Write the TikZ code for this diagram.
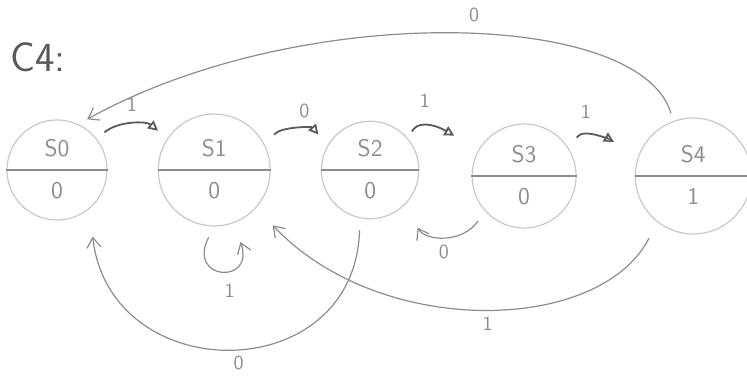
\documentclass[tikz,border=0pt]{standalone}
\usepackage{tikz}
\usetikzlibrary{shapes.multipart,arrows.meta,positioning}
\definecolor{PencilDark}{HTML}{5A5A5A}
\definecolor{PencilMid}{HTML}{8C8C8C}
\definecolor{PencilLight}{HTML}{C8C8C8}
\tikzset{
  ST/.style={circle split,draw=PencilLight,line width=0.6pt,
             inner sep=6pt,font=\sffamily\large,text=PencilMid},
  SPL/.style={draw=PencilMid,line width=0.6pt},
  arr/.style={-{Triangle[open,length=5pt,width=5pt]},PencilDark,line width=0.9pt},
  larr/.style={-{Straight Barb[length=5pt,width=7pt]},PencilMid,line width=0.6pt},
  LB/.style={font=\sffamily\normalsize,text=PencilMid}
}
\begin{document}
\begin{tikzpicture}[x=0.5pt,y=0.5pt,node distance=25pt]
  \useasboundingbox (0,0) rectangle (747,379);
  \node[font=\sffamily\huge,text=PencilDark] (title) at (38,322) {C4:};

  \node[ST,minimum size=50pt] (s0) at (57,209) {S0\nodepart{lower}0};
  \node[ST,minimum size=56pt,right=of s0] (s1) {S1\nodepart{lower}0};
  \node[ST,minimum size=48pt,right=of s1] (s2) {S2\nodepart{lower}0};
  \node[ST,minimum size=52pt,right=26pt of s2,yshift=-3pt] (s3) {S3\nodepart{lower}0};
  \node[ST,minimum size=58pt,right=29pt of s3] (s4) {S4\nodepart{lower}1};
  \foreach \s in {s0,s1,s2,s3,s4}
    \draw[SPL] (\s.west) -- (\s.east);

  % short arrows along the top
  \draw[arr,shorten <=5pt,shorten >=6pt] (s0.38) to[bend left=40] node[LB,midway,above=3pt]{1} (s1.146);
  \draw[arr,shorten <=7pt,shorten >=7pt] (s1.26) to[bend left=50] node[LB,midway,above=3pt,xshift=4pt]{0} (s2.150);
  \draw[arr,shorten <=4pt,shorten >=14pt] (s2.40) to[out=60,in=150] node[LB,pos=0.3,above=6pt]{1} (s3.150);
  \draw[arr,shorten <=7pt,shorten >=14pt] (s3.30) to[out=60,in=150] node[LB,pos=0.3,above=6pt]{1} (s4.160);

  % long arcs
  \draw[larr,shorten <=4pt,shorten >=5pt] (s4.110) .. controls (640,370) and (300,378) .. node[LB,pos=0.46,above=3pt]{0} (s0.65);
  \draw[larr,shorten <=6pt,shorten >=14pt] (s2.258) .. controls (355,-10) and (110,-10) .. node[LB,midway,below=2pt,xshift=4pt]{0} (s0.-50);
  \draw[larr,shorten <=9pt,shorten >=12pt] (s4.232) .. controls (600,45) and (380,40) .. node[LB,midway,below=2pt,xshift=3pt]{1} (s1.-42);
  \draw[larr,shorten <=6pt,shorten >=13pt] (s3.222) .. controls (462,135) and (425,138) .. node[LB,midway,below=2pt]{0} (s2.-45);
  \draw[larr,shorten <=6pt,shorten >=10pt] (s1.-90) .. controls (186,98) and (256,94) .. node[LB,midway,below=4pt,xshift=4pt]{1} (s1.-70);
\end{tikzpicture}
\end{document}
